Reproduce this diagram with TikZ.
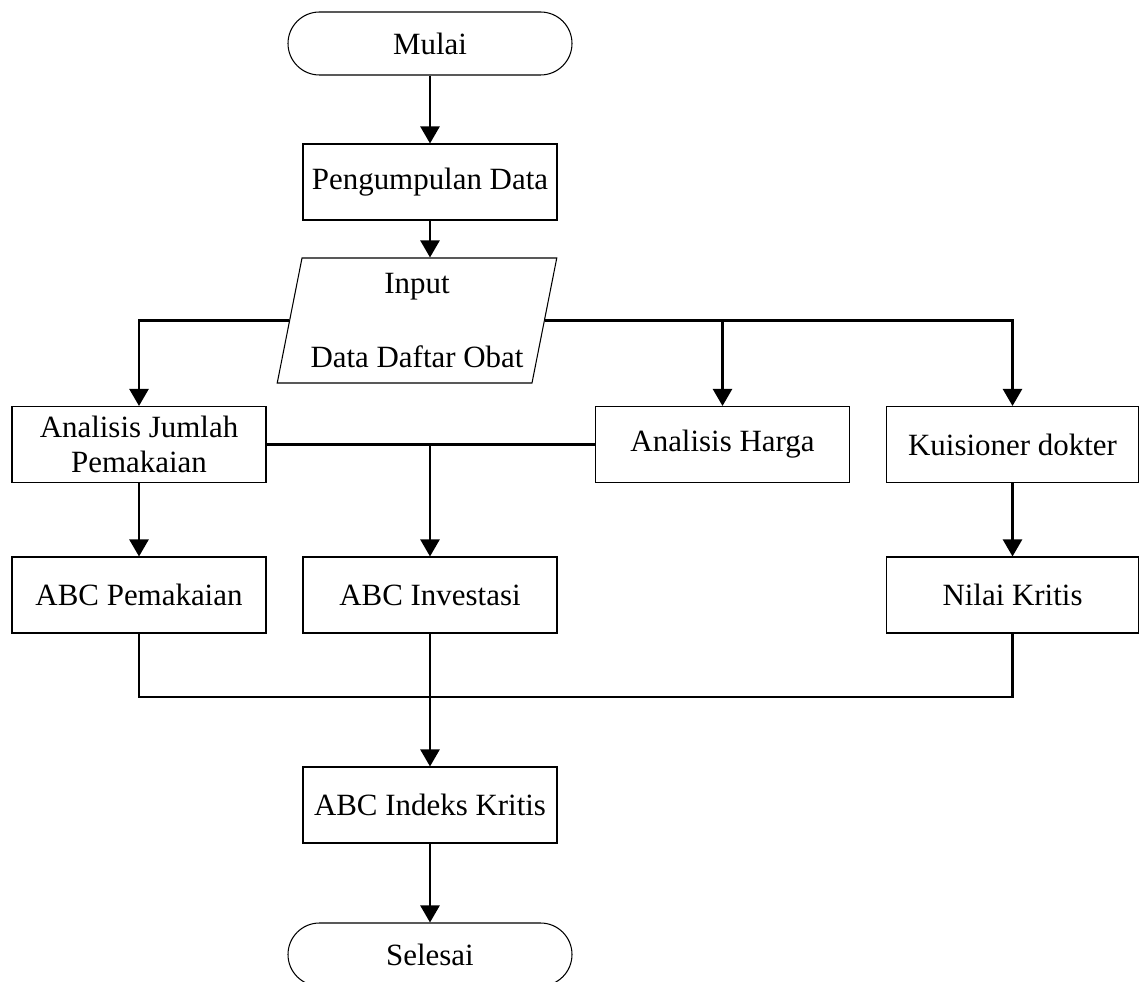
\documentclass[tikz,border=0pt]{standalone}
\usepackage{fontspec}
\setmainfont{Liberation Serif}
\usetikzlibrary{shapes.geometric, arrows.meta}

\begin{document}
\begin{tikzpicture}[
        procbox/.style={draw, line width=0.6pt, minimum width=5.08cm, minimum height=1.52cm, align=center, font=\fontsize{17.6}{20}\selectfont},
        termbox/.style={draw, line width=0.6pt, rounded corners=0.63cm, minimum width=5.68cm, minimum height=1.26cm, font=\fontsize{17.6}{20}\selectfont},
        iobox/.style={draw, line width=0.6pt, trapezium, trapezium left angle=77.4, trapezium right angle=102.6, trapezium stretches=true, minimum width=5.6cm, minimum height=2.5cm, inner xsep=2pt, align=center, font=\fontsize{17.6}{20}\selectfont},
        arr/.style={line width=1.4pt, -{Triangle[length=0.34cm, width=0.38cm]}},
        link/.style={line width=1.4pt}
    ]
        \useasboundingbox (0,0) rectangle (22.78,-19.64);

        \node[termbox] at (8.6,-0.87) (mulai) {Mulai};
        \node[procbox] at (8.6,-3.64) (kumpul) {Pengumpulan Data};
        \node[iobox] at (8.34,-6.41) (input) {Input\\[22pt]Data Daftar Obat};

        \node[procbox] at (2.78,-8.89) (jumlah) {Analisis Jumlah\\Pemakaian};
        \node[procbox] at (14.45,-8.89) (harga) {Analisis Harga};
        \node[procbox, minimum width=5.04cm] at (20.25,-8.89) (kuis) {Kuisioner dokter};

        \node[procbox] at (2.78,-11.9) (abcpakai) {ABC Pemakaian};
        \node[procbox] at (8.6,-11.9) (abcinv) {ABC Investasi};
        \node[procbox, minimum width=5.04cm] at (20.25,-11.9) (kritis) {Nilai Kritis};

        \coordinate (gabung) at (8.6,-13.94);
        \node[procbox] at (8.6,-16.1) (indeks) {ABC Indeks Kritis};
        \node[termbox] at (8.6,-19.09) (selesai) {Selesai};

        \draw[arr] (mulai) -- (kumpul);
        \draw[arr] (kumpul.south) -- (kumpul.south |- input.north);
        \draw[arr] (input.west) -| (jumlah.north);
        \draw[arr] (input.east) -| (kuis.north);
        \draw[arr] (harga.north |- input.east) -- (harga.north);

        \draw[link] (jumlah.east) -- (harga.west);
        \draw[arr] (abcinv.north |- jumlah.east) -- (abcinv.north);
        \draw[arr] (jumlah) -- (abcpakai);
        \draw[arr] (kuis) -- (kritis);

        \draw[link] (abcpakai.south) |- (gabung) -| (kritis.south);
        \draw[arr] (abcinv.south) -- (indeks.north);
        \draw[arr] (indeks) -- (selesai);
    \end{tikzpicture}
\end{document}
